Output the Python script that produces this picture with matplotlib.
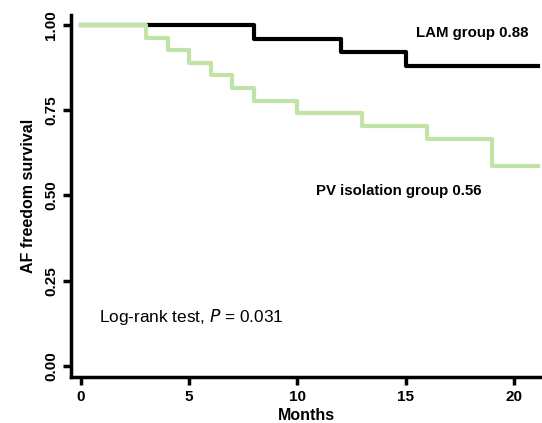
import matplotlib
matplotlib.use("Agg")
import matplotlib.pyplot as plt

plt.rcParams['font.family'] = ['Liberation Sans', 'DejaVu Sans']

# LAM group step data (time of change, survival after)
lam_times = [0, 8, 12, 15, 21.1]
lam_surv = [1.0, 0.96, 0.92, 0.88, 0.88]

# PV isolation group
pv_times = [0, 3, 4, 5, 6, 7, 8, 10, 13, 16, 19, 21.1]
pv_surv = [1.0, 0.963, 0.926, 0.889, 0.852, 0.815, 0.778, 0.741, 0.704, 0.667, 0.585, 0.585]

x_ticks = [0, 5, 10, 15, 20]
y_ticks = [0.0, 0.25, 0.5, 0.75, 1.0]
y_ticklabels = ["0.00", "0.25", "0.50", "0.75", "1.00"]

fig = plt.figure(figsize=(5.42, 4.23), dpi=100)
ax = fig.add_axes([71/542, 46/423, 471/542, 362/423])

ax.step(lam_times, lam_surv, where='post', color='black', lw=3, zorder=2)
ax.step(pv_times, pv_surv, where='post', color='#c2e3a6', lw=3, zorder=3)

ax.set_xlim(-0.46, 21.3)
ax.set_ylim(-0.032, 1.029)

ax.spines['top'].set_visible(False)
ax.spines['right'].set_visible(False)
for s in ['left', 'bottom']:
    ax.spines[s].set_linewidth(2.5)

ax.set_xticks(x_ticks)
ax.set_yticks(y_ticks)
ax.set_yticklabels(y_ticklabels, rotation=90, va='center')
ax.tick_params(axis='both', width=2.5, length=6, labelsize=11, pad=3)
for lab in ax.get_xticklabels() + ax.get_yticklabels():
    lab.set_fontweight('bold')

ax.set_xlabel("Months", fontsize=11.5, fontweight='bold', labelpad=3)
ax.set_ylabel("AF freedom survival", fontsize=11.5, fontweight='bold', labelpad=6)

ax.text(15.5, 0.977, "LAM group 0.88", fontsize=10.8, fontweight='bold', ha='left', va='center')
ax.text(10.85, 0.513, "PV isolation group 0.56", fontsize=10.8, fontweight='bold', ha='left', va='center')
ax.text(0.85, 0.143, r"Log-rank test, $\mathit{P}$ = 0.031", fontsize=12.4, ha='left', va='center')

fig.savefig("out.png", dpi=100)
